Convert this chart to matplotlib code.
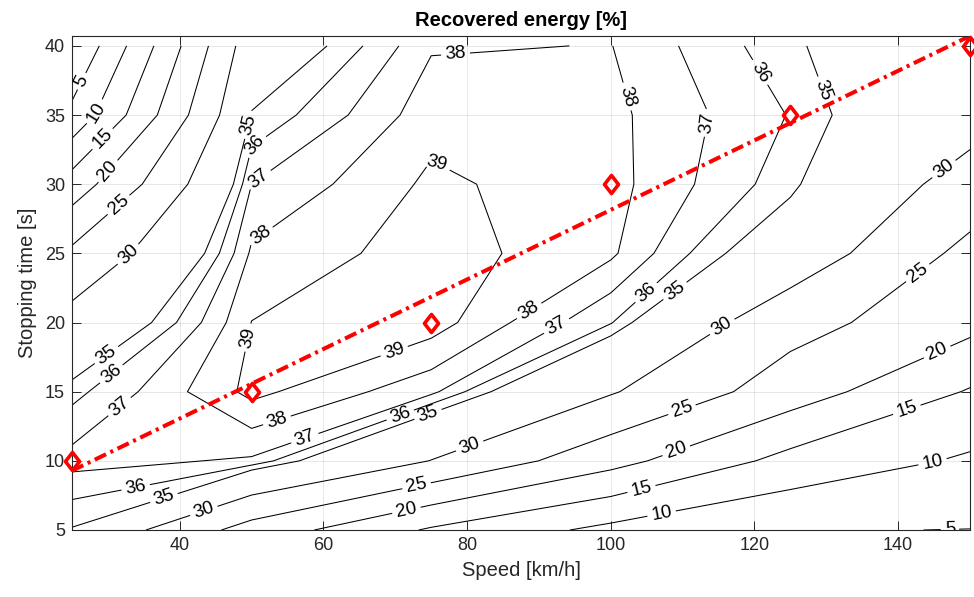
import numpy as np
import matplotlib
matplotlib.use("Agg")
import matplotlib.pyplot as plt
from matplotlib.path import Path

plt.rcParams['font.family'] = ['Liberation Sans', 'DejaVu Sans']
plt.rcParams['lines.scale_dashes'] = False

# ---- data ----
speed = [25, 50, 75, 100, 125, 150]            # km/h
stop_time = [5, 10, 15, 20, 25, 30, 35, 40]    # s
# recovered energy [%], one row per stopping time
e_t05 = [34.9, 23.0, 14.4, 8.7, 5.2, 4.93]
e_t10 = [37.4, 36.85, 29.9, 21.7, 13.4, 9.3]
e_t15 = [35.66, 39.3, 37.3, 30.4, 22.5, 14.6]
e_t20 = [31.8, 39.02, 39.5, 36.1, 26.8, 21.5]
e_t25 = [26.0, 38.19, 39.52, 38.2, 33.2, 23.6]
e_t30 = [17.3, 37.0, 39.21, 38.38, 35.42, 28.1]
e_t35 = [6.3, 35.14, 38.6, 38.28, 35.94, 31.9]
e_t40 = [0.0, 32.9, 37.9, 38.03, 35.3, 32.0]
levels = [5, 10, 15, 20, 25, 30, 35, 36, 37, 38, 39]

# optimal stopping time per speed (red diamonds)
opt_speed = [25, 50, 75, 100, 125, 150]
opt_time = [10, 15, 20, 30, 35, 40]

# ---- figure ----
W, H = 974, 597
fig = plt.figure(figsize=(W / 100, H / 100), dpi=100)
ax = fig.add_axes([72 / W, 1 - 530 / H, (970 - 72) / W, (530 - 36) / H])

X, Y = np.meshgrid(speed, stop_time)
Z = np.array([e_t05, e_t10, e_t15, e_t20, e_t25, e_t30, e_t35, e_t40])

cs = ax.contour(X, Y, Z, levels=levels, colors='black', linewidths=0.75)

# linear fit through the optimal points
coef = np.polyfit(opt_speed, opt_time, 1)
fit_x = np.array([speed[0], speed[-1]])
fit_y = np.polyval(coef, fit_x)

ax.set_xlim(speed[0], speed[-1])
ax.set_ylim(stop_time[0], max(fit_y.max(), stop_time[-1]))

diamond = Path([(0, 1), (0.78, 0), (0, -1), (-0.78, 0), (0, 1)],
               [Path.MOVETO, Path.LINETO, Path.LINETO, Path.LINETO, Path.CLOSEPOLY])

ax.plot(fit_x, fit_y, color='red', lw=2.9, dashes=(9, 3.5, 2.2, 3.5))
ax.plot(opt_speed, opt_time, linestyle='none', marker=diamond, markersize=13,
        markerfacecolor='none', markeredgecolor='red', markeredgewidth=2.6,
        clip_on=False, zorder=5)

label_spots = [
    (26.5, 37.4), (28.3, 35.2), (29.4, 33.2), (30.1, 30.9), (31.5, 28.5), (32.9, 24.9),
    (49.5, 34.3), (50.7, 32.6), (51.0, 30.4), (51.0, 26.5),
    (78.4, 39.3), (75.9, 31.6), (49.6, 18.9), (70.0, 17.7),
    (53.6, 12.8), (57.5, 11.5), (70.7, 13.3), (74.6, 13.3),
    (88.8, 20.7), (92.5, 19.7), (105.2, 22.0), (109.2, 22.1),
    (101.3, 36.2), (113.0, 34.5), (120.5, 38.0), (129.0, 36.7),
    (146.5, 31.0), (142.7, 23.6), (145.4, 17.9), (141.2, 13.7), (144.8, 9.9), (147.2, 5.1),
    (115.5, 19.7), (109.9, 13.7), (109.2, 10.6), (104.3, 7.9), (107.1, 6.1),
    (80.4, 11.0), (73.0, 8.1), (71.6, 6.3),
    (33.9, 8.0), (37.8, 7.3), (43.4, 6.3),
    (30.0, 17.5), (30.6, 16.2), (31.8, 13.8),
]
ax.clabel(cs, manual=label_spots, inline=True, fontsize=13.5, fmt='%d',
          inline_spacing=4)

# ---- axes styling (MATLAB-like) ----
axc = '#262626'
ax.set_xticks([40, 60, 80, 100, 120, 140])
ax.set_yticks(stop_time)
ax.grid(True, color=axc, alpha=0.13, linewidth=0.6)
ax.set_axisbelow(True)
ax.tick_params(direction='in', length=6.5, width=0.7, colors=axc,
               labelsize=13, top=True, right=True, pad=5)
for s in ax.spines.values():
    s.set_color(axc)
    s.set_linewidth(0.8)
ax.set_xlabel('Speed [km/h]', fontsize=14.5, color=axc, labelpad=5)
ax.set_ylabel('Stopping time [s]', fontsize=14.5, color=axc, labelpad=6)
ax.set_title('Recovered energy [%]', fontsize=14.5, fontweight='bold',
             color='black', pad=7)

fig.savefig('out.png', dpi=100)
